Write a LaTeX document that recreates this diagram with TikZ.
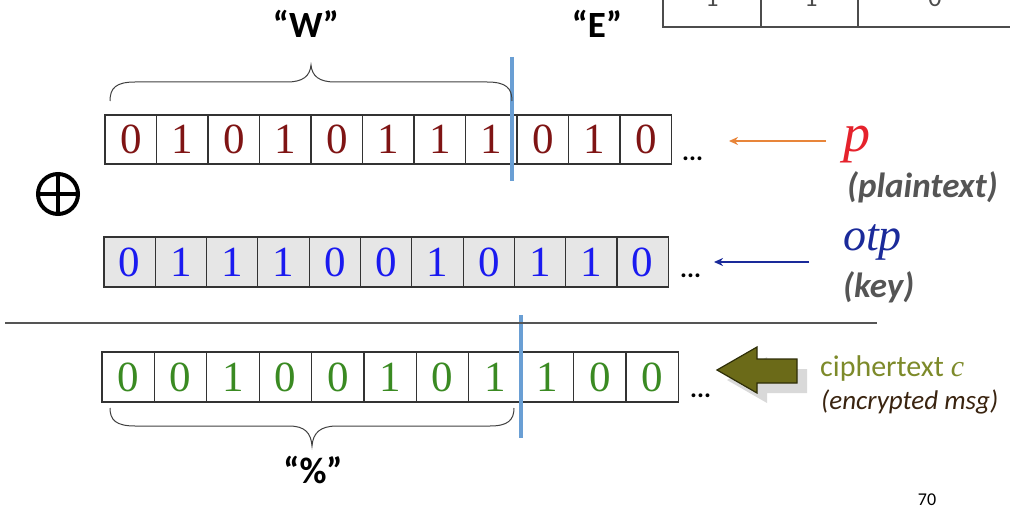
\documentclass[tikz,border=0pt]{standalone}
\usepackage{fontspec}
\setmainfont{Liberation Serif}
\newfontfamily\calib{Carlito}
\newfontfamily\serifit{Liberation Serif}
\usetikzlibrary{arrows.meta}
\definecolor{pred}{HTML}{7F1414}
\definecolor{kblue}{HTML}{1A1AF0}
\definecolor{cgreen}{HTML}{3A8A22}
\definecolor{splitblue}{HTML}{6A9FD4}
\definecolor{orangearr}{HTML}{E8853A}
\definecolor{plabel}{HTML}{E5222C}
\definecolor{otpblue}{HTML}{1A2A9A}
\definecolor{graytxt}{HTML}{555555}
\definecolor{olivetxt}{HTML}{7D8A2A}
\definecolor{olivefill}{HTML}{6B6A18}
\definecolor{oliveedge}{HTML}{2E2E08}
\definecolor{browntxt}{HTML}{3A2410}
\definecolor{cellgray}{HTML}{E6E6E6}
\tikzset{
  bitcell/.style={draw=black!80,line width=1.1pt,inner sep=0pt,font=\fontsize{43}{43}\selectfont},
  pcell/.style={bitcell,minimum width=51.5pt,minimum height=49pt,text=pred},
  kcell/.style={bitcell,fill=cellgray,minimum width=51.3pt,minimum height=50pt,text=kblue},
  ccell/.style={bitcell,minimum width=52.4pt,minimum height=50pt,text=cgreen},
  dots/.style={font=\calib\bfseries\fontsize{26}{26}\selectfont,inner sep=0pt},
  quotelbl/.style={font=\calib\bfseries\fontsize{37}{37}\selectfont,inner sep=0pt},
  splitline/.style={draw=splitblue,line width=3.5pt},
  bracepath/.style={draw=black!75,line width=1pt},
  graylbl/.style={font=\calib\itshape\bfseries\fontsize{35}{35}\selectfont,text=graytxt,inner sep=0pt},
  thinarrow/.style={line width=2pt,-{Stealth[length=9pt,width=8pt]}},
  tableline/.style={draw=black!70,line width=1.2pt}
}
\begin{document}
\begin{tikzpicture}[x=1pt,y=-1pt]
\useasboundingbox (0,0) rectangle (1010,508);

% top-right table fragment
\begin{scope}
\clip (0,0) rectangle (1010,508);
\coordinate (t1) at (663,-5);
\coordinate (t2) at (663,27);
\coordinate (t3) at (1015,27);
\draw[tableline] (t1) -- (t2) -- (t3);
\coordinate (t4) at (761,-5); \coordinate (t5) at (761,27);
\coordinate (t6) at (858,-5); \coordinate (t7) at (858,27);
\draw[tableline] (t4) -- (t5);
\draw[tableline] (t6) -- (t7);
\node[font=\calib\fontsize{26}{26}\selectfont,text=black!70,anchor=south] (tv1) at (712,10) {1};
\node[font=\calib\fontsize{26}{26}\selectfont,text=black!70,anchor=south] (tv2) at (811,10) {1};
\node[font=\calib\fontsize{26}{26}\selectfont,text=black!70,anchor=south] (tv3) at (935,10) {0};
\end{scope}

% quote labels
\node[quotelbl] (W) at (306,24) {“W”};
\node[quotelbl] (E) at (597,24) {“E”};
\node[quotelbl] (pct) at (313,470) {“\%”};

% row 1: plaintext
\foreach \b [count=\i] in {0,1,0,1,0,1,1,1,0,1,0}
  \node[pcell] (p\i) at ({105+51.5*(\i-0.5)},139.5) {\b};
% row 2: key
\foreach \b [count=\i] in {0,1,1,1,0,0,1,0,1,1,0}
  \node[kcell] (k\i) at ({104+51.3*(\i-0.5)},262) {\b};
% row 3: ciphertext
\foreach \b [count=\i] in {0,0,1,0,0,1,0,1,1,0,0}
  \node[ccell] (c\i) at ({102+52.4*(\i-0.5)},377) {\b};

% dots
\node[dots,anchor=base west] (pd) at (682,161) {...};
\node[dots,anchor=base west] (kd) at (680,277) {...};
\node[dots,anchor=base west] (cd) at (690,397) {...};

% split lines
\coordinate (s1a) at (512,57); \coordinate (s1b) at (512,181);
\coordinate (s2a) at (521,315); \coordinate (s2b) at (521,438);
\draw[splitline] (s1a) -- (s1b);
\draw[splitline] (s2a) -- (s2b);

% braces
\draw[bracepath] (110,101) .. controls (110,88) and (116,82) .. (135,82)
  -- (287,82) .. controls (303,82) and (310,76) .. (311,65)
  .. controls (312,76) and (319,82) .. (335,82)
  -- (487,82) .. controls (506,82) and (512,88) .. (512,101);
\draw[bracepath] (110,408) .. controls (110,420) and (116,426) .. (135,426)
  -- (289,426) .. controls (305,426) and (311,433) .. (312,446)
  .. controls (313,433) and (320,426) .. (337,426)
  -- (490,426) .. controls (508,426) and (514,420) .. (514,408);

% xor symbol
\node[circle,draw=black,line width=4pt,minimum size=40pt,inner sep=0pt] (xor) at (58,194) {};
\draw[line width=4pt] (xor.north) -- (xor.south);
\draw[line width=4pt] (xor.west) -- (xor.east);

% separator
\coordinate (sepa) at (5,323); \coordinate (sepb) at (877,323);
\draw[draw=graytxt,line width=1.3pt] (sepa) -- (sepb);

% plaintext label and arrow
\node[font=\itshape\fontsize{54}{54}\selectfont,text=plabel,inner sep=0pt,anchor=base] (plbl) at (857,152) {p};
\node[graylbl,anchor=west] (plain) at (847,187) {(plaintext)};
\coordinate (pa1) at (826,141); \coordinate (pa2) at (729,141);
\draw[thinarrow,draw=orangearr,fill=orangearr] (pa1) -- (pa2);

% key label and arrow
\node[font=\itshape\fontsize{46}{46}\selectfont,text=otpblue,inner sep=0pt,anchor=base west] (otplbl) at (843,251) {otp};
\node[graylbl,anchor=west] (key) at (843,287) {(key)};
\coordinate (ka1) at (809,262); \coordinate (ka2) at (714,262);
\draw[thinarrow,draw=otpblue,fill=otpblue] (ka1) -- (ka2);

% ciphertext label and fat arrow
\node[font=\calib\fontsize{30}{30}\selectfont,text=olivetxt,inner sep=0pt,anchor=west] (ctlbl) at (820,369) {ciphertext {\serifit\itshape c}};
\node[font=\calib\itshape\fontsize{27}{27}\selectfont,text=browntxt,inner sep=0pt,anchor=west] (enc) at (821,402) {(encrypted msg)};
\fill[black!15] (727,380) -- (767,357) -- (767,369) -- (807,369) -- (807,393) -- (767,393) -- (767,403) -- cycle;
\filldraw[fill=olivefill,draw=oliveedge,line width=1.2pt] (717,370) -- (757,347) -- (757,359) -- (797,359) -- (797,383) -- (757,383) -- (757,393) -- cycle;

% page number
\node[font=\calib\fontsize{18}{18}\selectfont,inner sep=0pt] (pg) at (927,500) {70};
\end{tikzpicture}
\end{document}
